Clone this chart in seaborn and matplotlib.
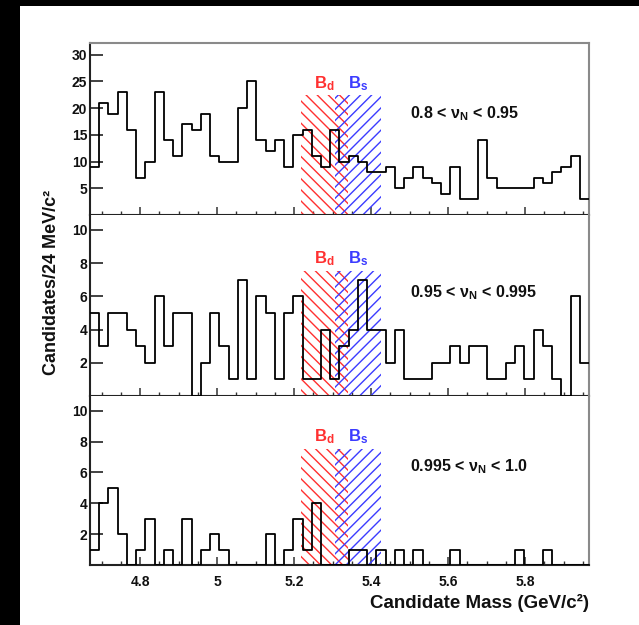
import numpy as np
import pandas as pd
import matplotlib
matplotlib.use("Agg")
import matplotlib.pyplot as plt
from matplotlib.patches import Rectangle
from matplotlib.ticker import MultipleLocator, FixedLocator
import seaborn as sns

# histogram binning: 24 MeV bins starting at 4.67 GeV
bin_start = 4.67
bin_width = 0.024
n_bins = 54

counts_low = [9, 21, 19, 23, 16, 7, 10, 23, 14, 11, 17, 16, 19, 11, 10, 10, 20, 25, 14, 12,
              14, 9, 15, 16, 11, 9, 16, 10, 11, 10, 8, 8, 9, 5, 7, 9, 7, 6, 4, 9,
              3, 3, 14, 7, 5, 5, 5, 5, 7, 6, 8, 9, 11, 3]
counts_mid = [5, 3, 5, 5, 4, 3, 2, 6, 3, 5, 5, 0, 2, 5, 3, 1, 7, 1, 6, 5,
              1, 5, 6, 1, 1, 4, 1, 3, 4, 7, 4, 4, 2, 4, 1, 1, 1, 2, 2, 3,
              2, 3, 3, 1, 1, 2, 3, 1, 4, 3, 1, 0, 6, 2]
counts_high = [1, 4, 5, 2, 0, 1, 3, 0, 1, 0, 3, 0, 1, 2, 1, 0, 0, 0, 0, 2,
               0, 1, 3, 1, 4, 0, 0, 0, 1, 1, 0, 1, 0, 1, 0, 1, 0, 0, 0, 1,
               0, 0, 0, 0, 0, 0, 1, 0, 0, 1, 0, 0, 0, 0]

panel_counts = [counts_low, counts_mid, counts_high]
panel_labels = [r"0.8 < ν$_\mathbf{N}$ < 0.95",
                r"0.95 < ν$_\mathbf{N}$ < 0.995",
                r"0.995 < ν$_\mathbf{N}$ < 1.0"]
panel_label_y = [19, 6.2, 6.4]
panel_ymax = [32.2, 10.9, 10.95]
panel_ystep = [5, 2, 2]
panel_ytick_max = [30, 10, 10]

# signal mass windows (GeV)
bd_window = [5.219, 5.339]
bs_window = [5.307, 5.427]
window_height = [22.4, 7.5, 7.5]
window_label_y = [24.6, 8.3, 8.3]

xmin, xmax = 4.67, 5.966

sns.set_style("ticks")
plt.rcParams["font.family"] = ["Liberation Sans", "DejaVu Sans"]
plt.rcParams["font.weight"] = "bold"
plt.rcParams["mathtext.fontset"] = "custom"
plt.rcParams["mathtext.rm"] = "Liberation Sans"
plt.rcParams["mathtext.bf"] = "Liberation Sans:bold"
plt.rcParams["mathtext.it"] = "Liberation Sans:italic"
plt.rcParams["hatch.linewidth"] = 1.0

red = "#ff3030"
blue = "#3c3cff"

fig, axes = plt.subplots(3, 1, figsize=(6.39, 6.25), dpi=100, sharex=True,
                         gridspec_kw={"height_ratios": [171, 180, 168], "hspace": 0})
fig.subplots_adjust(left=90 / 639, right=589 / 639, top=1 - 43 / 625, bottom=1 - 565 / 625)
fig.patch.set_facecolor("white")
# black frame strips on the left and top edge of the page
fig.add_artist(Rectangle((0, 0), 20 / 639, 1, transform=fig.transFigure,
                         facecolor="black", edgecolor="none", zorder=-10))
fig.add_artist(Rectangle((0, 1 - 6 / 625), 1, 6 / 625, transform=fig.transFigure,
                         facecolor="black", edgecolor="none", zorder=-10))

edges = bin_start + bin_width * np.arange(n_bins + 1)
centers = edges[:-1] + bin_width / 2

for i, ax in enumerate(axes):
    h = window_height[i]
    ax.bar((bd_window[0] + bd_window[1]) / 2, h, width=bd_window[1] - bd_window[0],
           facecolor="none", edgecolor=red, hatch="\\\\\\", linewidth=0, zorder=1)
    ax.bar((bs_window[0] + bs_window[1]) / 2, h, width=bs_window[1] - bs_window[0],
           facecolor="none", edgecolor=blue, hatch="///", linewidth=0, zorder=1)

    df = pd.DataFrame({"mass": centers, "count": panel_counts[i]})
    sns.histplot(data=df, x="mass", weights="count", bins=list(edges), element="step",
                 fill=False, color="black", linewidth=1.3, ax=ax, zorder=3)

    ax.text((bd_window[0] + bd_window[1]) / 2, window_label_y[i], r"B$_\mathbf{d}$",
            color=red, fontsize=12, fontweight="bold", ha="center", va="center")
    ax.text((bs_window[0] + bs_window[1]) / 2, window_label_y[i], r"B$_\mathbf{s}$",
            color=blue, fontsize=12, fontweight="bold", ha="center", va="center")
    ax.text(5.5, panel_label_y[i], panel_labels[i], fontsize=11.5, fontweight="bold",
            ha="left", va="center", color="#111111")

    ax.set_xlim(xmin, xmax)
    ax.set_ylim(0, panel_ymax[i])
    ax.set_ylabel("")
    ax.set_xlabel("")
    ax.yaxis.set_major_locator(FixedLocator(
        np.arange(panel_ystep[i], panel_ytick_max[i] + 1, panel_ystep[i])))
    ax.xaxis.set_major_locator(MultipleLocator(0.2))
    ax.xaxis.set_minor_locator(MultipleLocator(0.05))
    ax.tick_params(axis="y", direction="in", length=9, width=1.3, pad=2,
                   labelsize=10, colors="#333333", labelcolor="#111111")
    ax.tick_params(axis="x", which="major", direction="in", length=6, width=1.1,
                   pad=7, labelsize=10, colors="#333333", labelcolor="#111111")
    ax.tick_params(axis="x", which="minor", direction="in", length=3, width=1.0,
                   colors="#333333")
    for side in ["left", "bottom"]:
        ax.spines[side].set_color("#222222")
        ax.spines[side].set_linewidth(1.5)
    ax.spines["right"].set_color("#8a8a8a")
    ax.spines["right"].set_linewidth(1.5)
    ax.spines["top"].set_color("#8a8a8a")
    ax.spines["top"].set_linewidth(1.5)
    ax.spines["top"].set_visible(i == 0)

axes[2].xaxis.set_major_formatter(matplotlib.ticker.FuncFormatter(lambda v, p: f"{v:g}"))
axes[2].set_xlabel("Candidate Mass (GeV/c²)", fontsize=13.5, fontweight="bold",
                   loc="right", labelpad=4, color="#111111")
fig.text(52 / 639, 1 - 282 / 625, "Candidates/24 MeV/c²", rotation=90, fontsize=13,
         fontweight="bold", ha="center", va="center", color="#111111")

fig.savefig("out.png", dpi=100, facecolor=fig.get_facecolor())
